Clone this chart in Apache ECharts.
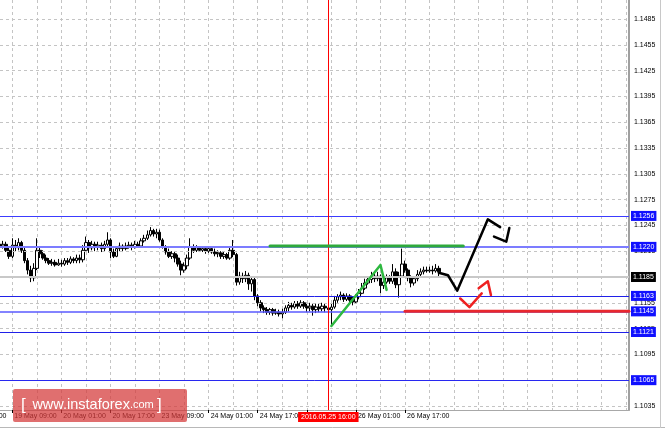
<!DOCTYPE html>
<html><head><meta charset="utf-8">
<script src="https://cdn.jsdelivr.net/npm/echarts@6/dist/echarts.min.js"></script>
<style>html,body{margin:0;padding:0;background:#fff}#c{width:665px;height:429px}</style>
</head><body><div id="c"></div>
<script>
// ---- data (EURUSD H1) ----
const opens = [1.1223,1.1221,1.1223,1.1216,1.1209,1.1222,1.1219,1.1225,1.1216,1.1204,
1.1193,1.1184,1.1195,1.1216,1.1212,1.1207,1.1204,1.1201,1.1202,1.1199,
1.1201,1.1200,1.1204,1.1202,1.1206,1.1204,1.1207,1.1205,1.1216,1.1225,
1.1219,1.1223,1.1220,1.1222,1.1218,1.1223,1.1228,1.1214,1.1209,1.1218,
1.1221,1.1218,1.1221,1.1222,1.1220,1.1223,1.1221,1.1227,1.1230,1.1234,
1.1239,1.1235,1.1237,1.1228,1.1220,1.1214,1.1209,1.1212,1.1207,1.1200,
1.1193,1.1198,1.1207,1.1220,1.1216,1.1219,1.1216,1.1218,1.1215,1.1218,
1.1214,1.1212,1.1213,1.1209,1.1211,1.1207,1.1216,1.1211,1.1179,1.1186,
1.1183,1.1187,1.1177,1.1182,1.1163,1.1155,1.1149,1.1147,1.1144,1.1147,
1.1143,1.1144,1.1142,1.1144,1.1149,1.1152,1.1150,1.1154,1.1151,1.1155,
1.1151,1.1149,1.1151,1.1147,1.1150,1.1148,1.1151,1.1149,1.1147,1.1150,
1.1158,1.1162,1.1164,1.1159,1.1163,1.1158,1.1156,1.1162,1.1166,1.1172,
1.1178,1.1182,1.1186,1.1183,1.1186,1.1175,1.1179,1.1184,1.1180,1.1191,
1.1176,1.1186,1.1200,1.1193,1.1184,1.1178,1.1183,1.1188,1.1191,1.1193,
1.1192,1.1193,1.1192,1.1195];
const closes = [1.1221,1.1223,1.1216,1.1209,1.1222,1.1219,1.1225,1.1216,1.1204,1.1193,
1.1184,1.1195,1.1216,1.1212,1.1207,1.1204,1.1201,1.1202,1.1199,1.1201,
1.1200,1.1204,1.1202,1.1206,1.1204,1.1207,1.1205,1.1216,1.1225,1.1219,
1.1223,1.1220,1.1222,1.1218,1.1223,1.1228,1.1214,1.1209,1.1218,1.1221,
1.1218,1.1221,1.1222,1.1220,1.1223,1.1221,1.1227,1.1230,1.1234,1.1239,
1.1235,1.1237,1.1228,1.1220,1.1214,1.1209,1.1212,1.1207,1.1200,1.1193,
1.1198,1.1207,1.1220,1.1216,1.1219,1.1216,1.1218,1.1215,1.1218,1.1214,
1.1212,1.1213,1.1209,1.1211,1.1207,1.1216,1.1211,1.1179,1.1186,1.1183,
1.1187,1.1177,1.1182,1.1163,1.1155,1.1149,1.1147,1.1144,1.1147,1.1143,
1.1144,1.1142,1.1144,1.1149,1.1152,1.1150,1.1154,1.1151,1.1155,1.1151,
1.1149,1.1151,1.1147,1.1150,1.1148,1.1151,1.1149,1.1147,1.1150,1.1158,
1.1162,1.1164,1.1159,1.1163,1.1158,1.1156,1.1162,1.1166,1.1172,1.1178,
1.1182,1.1186,1.1183,1.1186,1.1175,1.1179,1.1184,1.1180,1.1191,1.1176,
1.1186,1.1200,1.1193,1.1184,1.1178,1.1183,1.1188,1.1191,1.1193,1.1192,
1.1193,1.1192,1.1195,1.1191];
const highs = [1.1226,1.1227,1.1226,1.1219,1.1230,1.1228,1.1230,1.1227,1.1220,1.1207,
1.1198,1.1201,1.1230,1.1220,1.1216,1.1211,1.1207,1.1206,1.1205,1.1206,
1.1205,1.1207,1.1207,1.1209,1.1208,1.1211,1.1211,1.1222,1.1232,1.1228,
1.1227,1.1226,1.1226,1.1225,1.1227,1.1237,1.1230,1.1218,1.1221,1.1225,
1.1223,1.1225,1.1226,1.1225,1.1227,1.1226,1.1230,1.1234,1.1239,1.1243,
1.1241,1.1241,1.1240,1.1230,1.1222,1.1218,1.1215,1.1214,1.1211,1.1204,
1.1202,1.1211,1.1230,1.1223,1.1222,1.1221,1.1221,1.1220,1.1221,1.1220,
1.1218,1.1216,1.1215,1.1214,1.1213,1.1220,1.1228,1.1213,1.1191,1.1190,
1.1192,1.1190,1.1186,1.1184,1.1165,1.1158,1.1152,1.1150,1.1149,1.1149,
1.1148,1.1147,1.1148,1.1152,1.1156,1.1155,1.1157,1.1157,1.1158,1.1157,
1.1155,1.1155,1.1154,1.1154,1.1154,1.1155,1.1154,1.1152,1.1154,1.1163,
1.1165,1.1168,1.1166,1.1166,1.1165,1.1162,1.1165,1.1171,1.1178,1.1183,
1.1186,1.1191,1.1190,1.1191,1.1188,1.1184,1.1188,1.1187,1.1200,1.1195,
1.1191,1.1218,1.1204,1.1195,1.1187,1.1186,1.1193,1.1195,1.1197,1.1197,
1.1197,1.1198,1.1200,1.1198];
const lows = [1.1219,1.1218,1.1214,1.1206,1.1207,1.1215,1.1216,1.1213,1.1201,1.1188,
1.1179,1.1180,1.1193,1.1207,1.1205,1.1201,1.1199,1.1198,1.1197,1.1198,
1.1197,1.1198,1.1199,1.1200,1.1201,1.1201,1.1201,1.1202,1.1214,1.1213,
1.1216,1.1215,1.1216,1.1214,1.1215,1.1221,1.1207,1.1207,1.1208,1.1215,
1.1214,1.1216,1.1218,1.1216,1.1218,1.1219,1.1219,1.1225,1.1228,1.1232,
1.1232,1.1230,1.1226,1.1218,1.1211,1.1207,1.1206,1.1202,1.1197,1.1187,
1.1190,1.1194,1.1205,1.1213,1.1214,1.1214,1.1214,1.1212,1.1213,1.1212,
1.1209,1.1208,1.1206,1.1206,1.1205,1.1205,1.1208,1.1175,1.1176,1.1178,
1.1179,1.1170,1.1168,1.1158,1.1151,1.1145,1.1143,1.1141,1.1141,1.1140,
1.1141,1.1139,1.1137,1.1142,1.1145,1.1147,1.1148,1.1148,1.1149,1.1148,
1.1144,1.1145,1.1140,1.1143,1.1144,1.1145,1.1144,1.1143,1.1128,1.1148,
1.1155,1.1158,1.1156,1.1157,1.1155,1.1152,1.1154,1.1159,1.1165,1.1170,
1.1176,1.1178,1.1179,1.1180,1.1166,1.1171,1.1177,1.1177,1.1177,1.1172,
1.1161,1.1184,1.1190,1.1180,1.1173,1.1175,1.1180,1.1186,1.1188,1.1190,
1.1190,1.1188,1.1190,1.1186];

const yTickValues = [1.1035,1.1065,1.1095,1.1125,1.1155,1.1185,1.1215,1.1245,1.1275,1.1305,1.1335,1.1365,1.1395,1.1425,1.1455,1.1485];
const levelValues = [1.1256,1.1220,1.1163,1.1145,1.1121,1.1065];
const bidPrice = 1.1185;
const markerBar = 107;
const markerLabel = '2016.05.25 16:00';
const offscreenTickLabel = '18 May 17:00';
const monthNames = ['Jan','Feb','Mar','Apr','May','Jun','Jul','Aug','Sep','Oct','Nov','Dec'];
const totalSlots = 206;            // bars + empty future area
const firstBarTime = Date.UTC(2016,4,19,5);

// hand-drawn forecast marks (bar index, price)
const greenLevel = [[88,1.1221],[151,1.1221]];
const redLevel = [[132,1.1145],[205,1.1145]];
const greenZigzag = [[108.2,1.1128],[123.6,1.1199],[126.4,1.1170]];
const blackPath = [[143,1.1190],[146.1,1.1187],[149.1,1.1169],[159.2,1.1252],[162.5,1.1243]];
const blackHead = [[160.7,1.1232],[164.9,1.1226],[165.6,1.1242]];
const redPath = [[149.9,1.1160],[153.2,1.1150],[157.3,1.1166]];
const redHead = [[155.5,1.1172],[159.1,1.1180],[160.0,1.1164]];

// ---- build ----
const categories = [];
let t = firstBarTime;
while (categories.length < totalSlots) {
  const d = new Date(t);
  const wd = d.getUTCDay();
  if (wd !== 0 && wd !== 6) {
    categories.push(d.getUTCDate() + ' ' + monthNames[d.getUTCMonth()] + ' ' + String(d.getUTCHours()).padStart(2,'0') + ':00');
  }
  t += 3600e3;
}
const nBars = closes.length;
const candleData = closes.map((c,i)=>{
  const o = opens[i];
  return [o, c, Math.min(lows[i],o,c), Math.max(highs[i],o,c)];
});

const FONT = 'Liberation Sans';
const levelColors = ['#3c3cff','#7c7cff','#2020e8','#5a5aff','#2020e8','#2828f0'];
const levelWidths = [1,2,1,1.5,1,1];

const chart = echarts.init(document.getElementById('c'), null, {renderer:'canvas'});
function seg(data, color, width, z){
  return {type:'line', data, showSymbol:false, symbol:'none', silent:true, z,
    lineStyle:{color, width, cap:'round', join:'round'}, animation:false};
}
const option = {
  animation:false,
  backgroundColor:'#ffffff',
  grid:{left:0, right:36, top:0, bottom:19, containLabel:false},
  xAxis:{
    type:'category', data:categories, boundaryGap:false,
    axisLine:{show:true, lineStyle:{color:'#a8a8a8', width:1}},
    axisTick:{show:true, length:3, interval:(i)=> i%16===4 && i<nBars, lineStyle:{color:'#000'}},
    axisLabel:{interval:(i)=> i%16===4 && i<nBars, align:'left', margin:3, padding:[0,0,0,2],
      fontSize:7, fontFamily:FONT, color:'#000'},
    splitLine:{show:true, interval:(i)=> i%8===4, lineStyle:{color:'#c4c4c4', type:[3,3], width:1}}
  },
  yAxis:{
    type:'value', min:1.10303, max:1.15071, position:'right', scale:true,
    axisLine:{show:true, lineStyle:{color:'#a0a0a0', width:2}},
    axisTick:{show:false}, axisLabel:{show:false}, splitLine:{show:false}
  },
  series:[
    { // horizontal grid + price scale labels
      type:'line', data:[], z:1, silent:true,
      markLine:{silent:true, precision:4, symbol:['none','none'], animation:false,
        lineStyle:{color:'#c4c4c4', type:[3,3], width:1},
        label:{position:'end', distance:5, fontSize:7, fontFamily:FONT, color:'#000',
          formatter:(p)=>Number(p.value).toFixed(4)},
        data: yTickValues.map(v=>({yAxis:v}))}
    },
    {
      type:'candlestick', data:candleData, z:2, barWidth:3, silent:true,
      itemStyle:{color:'#ffffff', color0:'#000000', borderColor:'#000000', borderColor0:'#000000', borderWidth:1}
    },
    { // bid line
      type:'line', data:[], z:3, silent:true,
      markLine:{silent:true, precision:4, symbol:['none','none'], animation:false,
        lineStyle:{color:'#c8c8c8', type:'solid', width:2},
        label:{position:'end', distance:2, fontSize:7, fontFamily:FONT, color:'#fff',
          backgroundColor:'#000', padding:[1,2,1,2], lineHeight:8,
          formatter:(p)=>Number(p.value).toFixed(4)},
        data:[{yAxis:bidPrice}]}
    },
    { // horizontal levels
      type:'line', data:[], z:4, silent:true,
      markLine:{silent:true, precision:4, symbol:['none','none'], animation:false,
        label:{position:'end', distance:2, fontSize:7, fontFamily:FONT, color:'#fff',
          backgroundColor:'#1010ff', padding:[1,2,1,2], lineHeight:8,
          formatter:(p)=>Number(p.value).toFixed(4)},
        data: levelValues.map((v,i)=>({yAxis:v, lineStyle:{color:levelColors[i], width:levelWidths[i], type:'solid'}}))}
    },
    { // time marker
      type:'line', data:[], z:5, silent:true,
      markLine:{silent:true, symbol:['none','none'], animation:false,
        lineStyle:{color:'#ff0000', type:'solid', width:1},
        label:{position:'start', distance:2, fontSize:7, fontFamily:FONT, color:'#fff',
          backgroundColor:'#ff0000', padding:[2,3,1,3], formatter:()=>markerLabel},
        data:[{xAxis:categories[markerBar]}]}
    },
    seg(greenLevel,'#2eaa3c',3,6),
    seg(redLevel,'#e8282e',3,6),
    seg(greenZigzag,'#2eb840',2.5,7),
    seg(blackPath,'#000000',2.5,7),
    seg(blackHead,'#000000',2.5,7),
    seg(redPath,'#ee2020',2.5,7),
    seg(redHead,'#ee2020',2.5,7)
  ],
  graphic:[
    {type:'text', left:-36, top:413, z:10, silent:true,
      style:{text:offscreenTickLabel, fontSize:7, fontFamily:FONT, fill:'#000'}},
    {type:'line', silent:true, z:10, shape:{x1:0,y1:427.5,x2:665,y2:427.5}, style:{stroke:'#b8b8b8', lineWidth:1}},
    {type:'line', silent:true, z:10, shape:{x1:660.5,y1:0,x2:660.5,y2:428}, style:{stroke:'#c8c8c8', lineWidth:1}},
    {type:'rect', silent:true, z:20, shape:{x:13, y:389, width:174, height:33, r:2},
      style:{fill:'rgba(212,56,56,0.72)'}},
    {type:'text', silent:true, z:21, x:21, y:405,
      style:{
        text:'{b|[}  {w|www.instaforex}{c|.com} {b|]}',
        verticalAlign:'middle',
        rich:{
          b:{fontSize:17, fontFamily:FONT, fill:'#fff'},
          w:{fontSize:14.5, fontFamily:FONT, fill:'#fff'},
          c:{fontSize:11, fontFamily:FONT, fill:'#fff'}
        }
      }}
  ]
};
chart.setOption(option);
</script>
</body></html>
